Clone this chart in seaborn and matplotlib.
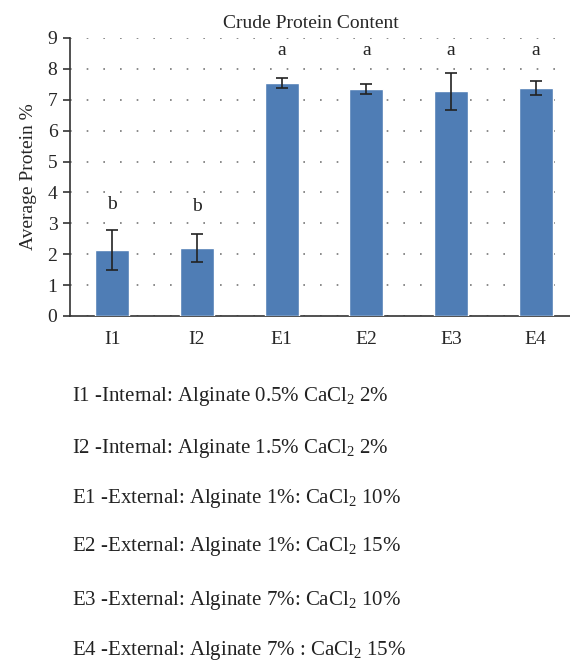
import seaborn as sns
import pandas as pd
import matplotlib.pyplot as plt

treatments = ["I1", "I2", "E1", "E2", "E3", "E4"]
protein = [2.15, 2.2, 7.55, 7.35, 7.28, 7.38]
protein_err = [0.65, 0.45, 0.16, 0.15, 0.6, 0.22]
letters = ["b", "b", "a", "a", "a", "a"]
letter_y = [3.6, 3.55, 8.6, 8.6, 8.6, 8.6]
descriptions = [
    r"I1 -Internal: Alginate 0.5% CaCl$_2$ 2%",
    r"I2 -Internal: Alginate 1.5% CaCl$_2$ 2%",
    r"E1 -External: Alginate 1%: CaCl$_2$ 10%",
    r"E2 -External: Alginate 1%: CaCl$_2$ 15%",
    r"E3 -External: Alginate 7%: CaCl$_2$ 10%",
    r"E4 -External: Alginate 7% : CaCl$_2$ 15%",
]

sns.set_style("white")
plt.rcParams["font.family"] = ["Liberation Serif", "DejaVu Serif"]
plt.rcParams["mathtext.fontset"] = "custom"
plt.rcParams["mathtext.rm"] = "Liberation Serif"
plt.rcParams["mathtext.it"] = "Liberation Serif:italic"

df = pd.DataFrame({"Treatment": treatments, "Protein": protein})

fig = plt.figure(figsize=(5.7, 6.65), dpi=100)
ax = fig.add_axes([70 / 570, 1 - 316 / 665, 508 / 570, 278 / 665])

sns.barplot(data=df, x="Treatment", y="Protein", color="#4F7DB5",
            width=0.4, saturation=1, ax=ax, zorder=3)
ax.errorbar(range(len(treatments)), protein, yerr=protein_err, fmt="none",
            ecolor="#222222", elinewidth=1.2, capsize=4.5, capthick=1.2, zorder=4)
for i, (lt, ly) in enumerate(zip(letters, letter_y)):
    ax.text(i, ly, lt, ha="center", va="center", fontsize=14, color="#222222")

ax.set_ylim(0, 9)
ax.set_xlim(-0.5, 5.5)
ax.set_yticks(range(10))
ax.yaxis.grid(True, linestyle=(0, (1, 9)), color="#777777", linewidth=1.2)
ax.set_axisbelow(True)
for s in ["top", "right"]:
    ax.spines[s].set_visible(False)
for s in ["left", "bottom"]:
    ax.spines[s].set_color("#333333")
    ax.spines[s].set_linewidth(1.2)
ax.tick_params(axis="y", left=True, length=5, width=1.2, color="#333333",
               labelsize=14, pad=4)
ax.tick_params(axis="x", bottom=False, labelsize=14, pad=7)
ax.set_xlabel("")
ax.set_ylabel("Average Protein %", fontsize=14, labelpad=8)
ax.set_title("Crude Protein Content", fontsize=14, pad=7, x=(311 - 70) / 508)

line_y = [397, 449, 498, 547, 600, 650]
for txt, py in zip(descriptions, line_y):
    fig.text(72 / 570, 1 - py / 665, txt, fontsize=15, va="center",
             ha="left", color="#222222")

fig.savefig("out.png", dpi=100)
